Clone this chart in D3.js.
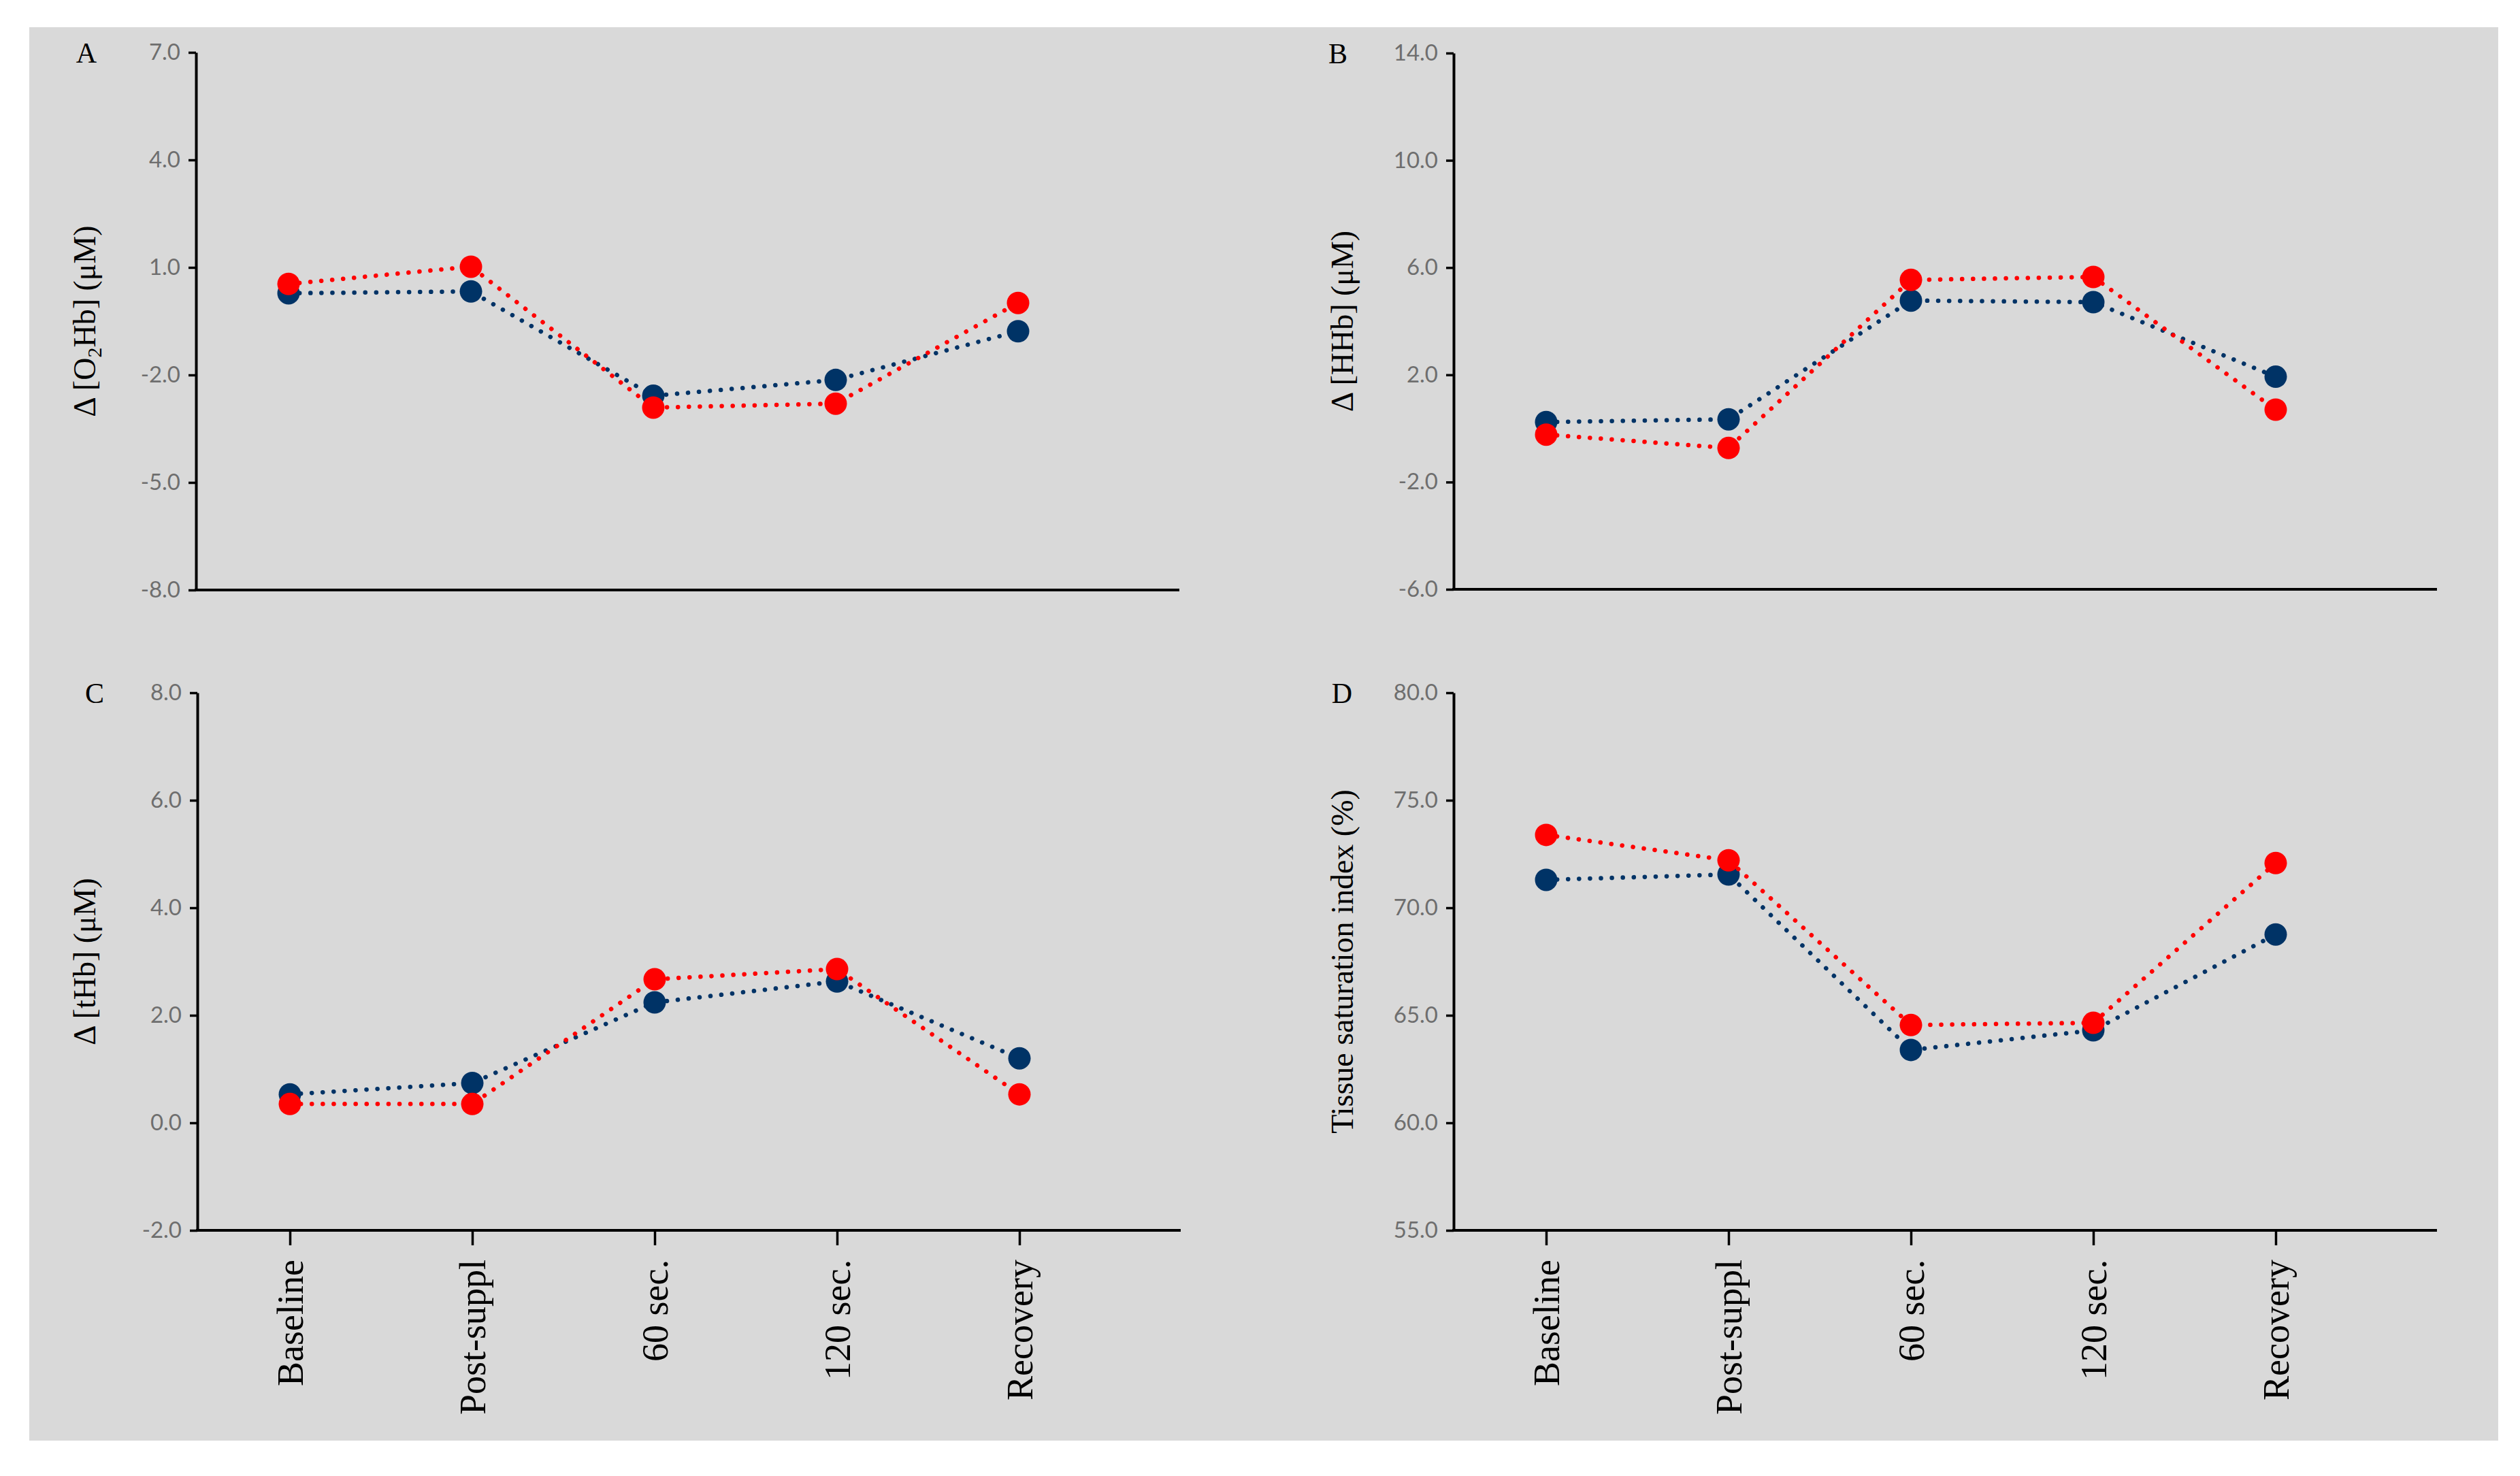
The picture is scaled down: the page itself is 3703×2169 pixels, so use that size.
<!DOCTYPE html>
<html>
<head>
<meta charset="utf-8">
<script src="https://cdn.jsdelivr.net/npm/d3@7"></script>
<style>
  body { margin: 0; background: #fff; }
  svg { display: block; }
</style>
</head>
<body>
<div id="chart"></div>
<script>
// categories on the x axis
const categories = ["Baseline", "Post-suppl", "60 sec.", "120 sec.", "Recovery"];

// panel A: delta O2Hb (uM)
const o2hbBlue = [0.28, 0.33, -2.58, -2.14, -0.78];
const o2hbRed = [0.54, 1.02, -2.91, -2.80, 0.01];
const o2hbTicks = [-8, -5, -2, 1, 4, 7];

// panel B: delta HHb (uM)
const hhbBlue = [0.24, 0.34, 4.77, 4.71, 1.93];
const hhbRed = [-0.23, -0.73, 5.54, 5.65, 0.70];
const hhbTicks = [-6, -2, 2, 6, 10, 14];

// panel C: delta tHb (uM)
const thbBlue = [0.53, 0.74, 2.24, 2.63, 1.20];
const thbRed = [0.35, 0.35, 2.67, 2.86, 0.53];
const thbTicks = [-2, 0, 2, 4, 6, 8];

// panel D: tissue saturation index (%)
const tsiBlue = [71.30, 71.55, 63.39, 64.30, 68.76];
const tsiRed = [73.39, 72.21, 64.55, 64.65, 72.08];
const tsiTicks = [55, 60, 65, 70, 75, 80];

const W = 3703, H = 2169;
const blue = "#003366", red = "#ff0000";
const serif = "'Liberation Serif', 'Times New Roman', serif";
const sans = "Lato, 'Open Sans', sans-serif";

const svg = d3.select("#chart").append("svg")
    .attr("width", W)
    .attr("height", H);

svg.append("rect")
    .attr("x", 43).attr("y", 40)
    .attr("width", 3671 - 43).attr("height", 2117 - 40)
    .attr("fill", "#d9d9d9");

const panels = [
    {letter: "A", left: 288, top: 77, bottom: 867, ticks: o2hbTicks, blueVals: o2hbBlue, redVals: o2hbRed,
     title: ["Δ [O", "2", "Hb] (μM)"], titleX: 124, letterX: 127, xLabels: false},
    {letter: "B", left: 2136, top: 78, bottom: 866, ticks: hhbTicks, blueVals: hhbBlue, redVals: hhbRed,
     title: ["Δ [HHb] (μM)"], titleX: 1972, letterX: 1966, xLabels: false},
    {letter: "C", left: 290, top: 1018, bottom: 1808, ticks: thbTicks, blueVals: thbBlue, redVals: thbRed,
     title: ["Δ [tHb] (μM)"], titleX: 124, letterX: 139, xLabels: true},
    {letter: "D", left: 2136, top: 1018, bottom: 1808, ticks: tsiTicks, blueVals: tsiBlue, redVals: tsiRed,
     title: ["Tissue saturation index (%)"], titleX: 1972, letterX: 1972, xLabels: true}
];

const axisLen = 1445;
const step = 268;

panels.forEach(p => {
    const g = svg.append("g");

    const x = d3.scalePoint()
        .domain(categories)
        .range([p.left + 136, p.left + 136 + 4 * step]);

    const y = d3.scaleLinear()
        .domain(d3.extent(p.ticks))
        .range([p.bottom, p.top]);

    // y axis
    const yAxis = g.append("g")
        .attr("transform", `translate(${p.left},0)`)
        .call(d3.axisLeft(y).tickValues(p.ticks).tickSize(11).tickSizeOuter(0).tickPadding(12)
            .tickFormat(d => d.toFixed(1)));
    yAxis.select(".domain").attr("stroke", "#000").attr("stroke-width", 4);
    yAxis.selectAll(".tick line").attr("stroke", "#000").attr("stroke-width", 3.5);
    yAxis.selectAll(".tick text")
        .attr("font-family", sans)
        .attr("font-size", 33)
        .attr("fill", "#6e6e6e");

    // x axis (tick marks only on the bottom row)
    const xAxis = g.append("g")
        .attr("transform", `translate(0,${p.bottom})`)
        .call(d3.axisBottom(x).tickSize(p.xLabels ? 22 : 0).tickSizeOuter(0).tickFormat(""));
    xAxis.select(".domain").remove();
    xAxis.selectAll(".tick line").attr("stroke", "#000").attr("stroke-width", 3.5);
    xAxis.append("line")
        .attr("x1", p.left - 2).attr("x2", p.left + axisLen)
        .attr("y1", 0).attr("y2", 0)
        .attr("stroke", "#000").attr("stroke-width", 4);

    if (p.xLabels) {
        g.selectAll(".xlab")
            .data(categories)
            .enter()
            .append("text")
            .attr("class", "xlab")
            .attr("transform", d => `translate(${x(d)},${p.bottom + 43}) rotate(-90)`)
            .attr("text-anchor", "end")
            .attr("dy", "0.35em")
            .attr("font-family", serif)
            .attr("font-size", 54)
            .attr("fill", "#000")
            .text(d => d);
    }

    // y axis title
    const t = g.append("text")
        .attr("transform", `translate(${p.titleX},${(p.top + p.bottom) / 2}) rotate(-90)`)
        .attr("text-anchor", "middle")
        .attr("dy", "0.35em")
        .attr("font-family", serif)
        .attr("font-size", 46)
        .attr("fill", "#000");
    if (p.title.length === 3) {
        t.append("tspan").text(p.title[0]);
        t.append("tspan").attr("dy", 9).attr("font-size", 30).text(p.title[1]);
        t.append("tspan").attr("dy", -9).text(p.title[2]);
    } else {
        t.text(p.title[0]);
    }

    // panel letter
    g.append("text")
        .attr("x", p.letterX)
        .attr("y", p.top)
        .attr("dy", "0.35em")
        .attr("text-anchor", "middle")
        .attr("font-family", serif)
        .attr("font-size", 42)
        .attr("fill", "#000")
        .text(p.letter);

    const line = d3.line()
        .x((d, i) => x(categories[i]))
        .y(d => y(d));

    [[p.blueVals, blue], [p.redVals, red]].forEach(([vals, col]) => {
        g.append("path")
            .datum(vals)
            .attr("d", line)
            .attr("fill", "none")
            .attr("stroke", col)
            .attr("stroke-width", 6.5)
            .attr("stroke-linecap", "round")
            .attr("stroke-dasharray", "0.1 16");

        g.selectAll(null)
            .data(vals)
            .enter()
            .append("circle")
            .attr("cx", (d, i) => x(categories[i]))
            .attr("cy", d => y(d))
            .attr("r", 16.5)
            .attr("fill", col);
    });
});
</script>
</body>
</html>
